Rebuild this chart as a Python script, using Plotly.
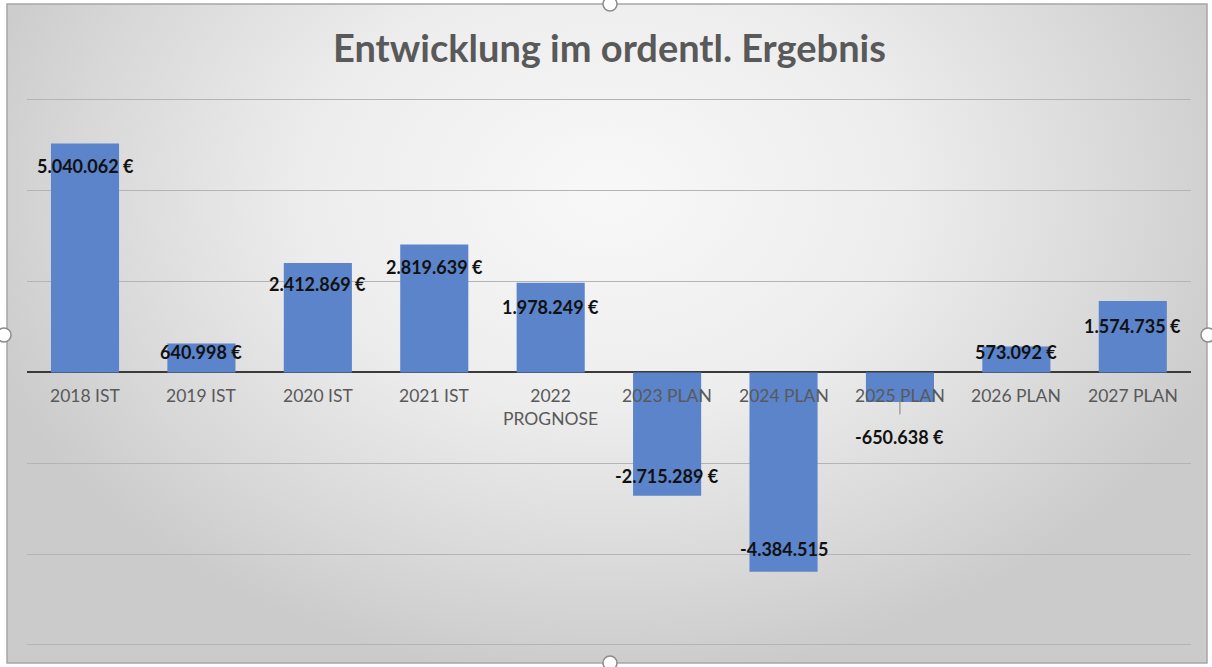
import plotly.graph_objects as go

# ---- data ----
categories = ["2018 IST", "2019 IST", "2020 IST", "2021 IST", "2022<br>PROGNOSE",
              "2023 PLAN", "2024 PLAN", "2025 PLAN", "2026 PLAN", "2027 PLAN"]
values = [5040062, 640998, 2412869, 2819639, 1978249,
          -2715289, -4384515, -650638, 573092, 1574735]
label_suffix = [" €", " €", " €", " €", " €", " €", "", " €", " €", " €"]

# ---- style (label offsets in px relative to bar end, as placed in the original) ----
label_yshift = [-22, -9, -21, -23, -24, 20, 23, -35, -6, -25]

W, H = 1212, 667
BAR = "#5b84cb"
FONT = "Lato, Calibri, 'Open Sans', sans-serif"

# y axis: -6M at px 645, +6M at px 100 -> extend a bit so edge gridlines draw
PX_PER_UNIT = (645 - 100) / 12e6
EXT = 0.1e6
y_lo, y_hi = -6e6 - EXT, 6e6 + EXT
py_bot = 645 + EXT * PX_PER_UNIT
py_top = 100 - EXT * PX_PER_UNIT


def fmt(v, suf):
    s = f"{abs(v):,}".replace(",", ".")
    return ("-" if v < 0 else "") + s + suf


fig = go.Figure()

# background radial gradient (centre shifted upward by extending the fill above the frame)
fig.add_trace(go.Scatter(
    x=[-0.05, 1.05, 1.05, -0.05, -0.05], y=[-0.02, -0.02, 1.45, 1.45, -0.02],
    mode="lines", fill="toself",
    line=dict(width=0), hoverinfo="skip", showlegend=False,
    fillgradient=dict(type="radial",
                      colorscale=[[0, "#f8f8f8"], [0.45, "#ededed"], [0.8, "#d8d8d8"], [1, "#cbcbcb"]]),
    xaxis="x", yaxis="y"))

fig.add_trace(go.Bar(
    x=categories, y=values, marker=dict(color=BAR, line=dict(width=0)),
    xaxis="x2", yaxis="y2", showlegend=False, hoverinfo="skip"))

annotations = []
for c, v, suf, ys in zip(categories, values, label_suffix, label_yshift):
    annotations.append(dict(
        x=c, y=v, xref="x2", yref="y2", text="<b>" + fmt(v, suf) + "</b>",
        showarrow=False, yanchor="middle", yshift=ys,
        font=dict(family=FONT, size=18, color="#111111")))
    annotations.append(dict(
        x=c, y=0, xref="x2", yref="y2", text=c, showarrow=False,
        yanchor="top", yshift=-11, align="center",
        font=dict(family=FONT, size=17.5, color="#595959")))

annotations.append(dict(
    x=0.503, y=(H - 47) / H, xref="paper", yref="paper", xanchor="center",
    yanchor="middle", showarrow=False,
    text="<b>Entwicklung im ordentl. Ergebnis</b>",
    font=dict(family=FONT, size=38, color="#595959")))

shapes = [
    # leader line for 2025 label
    dict(type="line", xref="x2", yref="y2", x0=categories[7], x1=categories[7],
         y0=-0.62e6, y1=-0.92e6, line=dict(color="#7f7f7f", width=1)),
    # chart frame
    dict(type="rect", xref="paper", yref="paper",
         x0=7 / W, x1=1207 / W, y0=(H - 663) / H, y1=(H - 4) / H,
         line=dict(color="#a6a6a6", width=1.5), fillcolor="rgba(0,0,0,0)"),
]
# selection handles
for cx, cy in [(610, 4), (4, 335), (1208, 335), (610, 663)]:
    r = 7
    shapes.append(dict(type="circle", xref="paper", yref="paper",
                       x0=(cx - r) / W, x1=(cx + r) / W,
                       y0=(H - cy - r) / H, y1=(H - cy + r) / H,
                       line=dict(color="#8c8c8c", width=1.5), fillcolor="white"))

fig.update_layout(
    width=W, height=H, margin=dict(l=0, r=0, t=0, b=0),
    paper_bgcolor="white", plot_bgcolor="rgba(0,0,0,0)",
    bargap=0.415,
    xaxis=dict(domain=[7 / W, 1207 / W], range=[0, 1], visible=False, fixedrange=True),
    yaxis=dict(domain=[(H - 663) / H, (H - 4) / H], range=[0, 1], visible=False, fixedrange=True),
    xaxis2=dict(domain=[26.8 / W, 1191 / W], anchor="y2", showticklabels=False,
                showgrid=False, zeroline=False, showline=False, ticks="", fixedrange=True),
    yaxis2=dict(domain=[(H - py_bot) / H, (H - py_top) / H], anchor="x2",
                range=[y_lo, y_hi], tick0=0, dtick=2e6, showticklabels=False,
                showgrid=True, gridcolor="#b4b4b4", gridwidth=1,
                zeroline=True, zerolinecolor="#3a3a3a", zerolinewidth=2,
                showline=False, ticks="", fixedrange=True),
    annotations=annotations, shapes=shapes,
)

fig.write_html("out.html", config={"displayModeBar": False},
               post_script="document.body.style.margin='0';")
